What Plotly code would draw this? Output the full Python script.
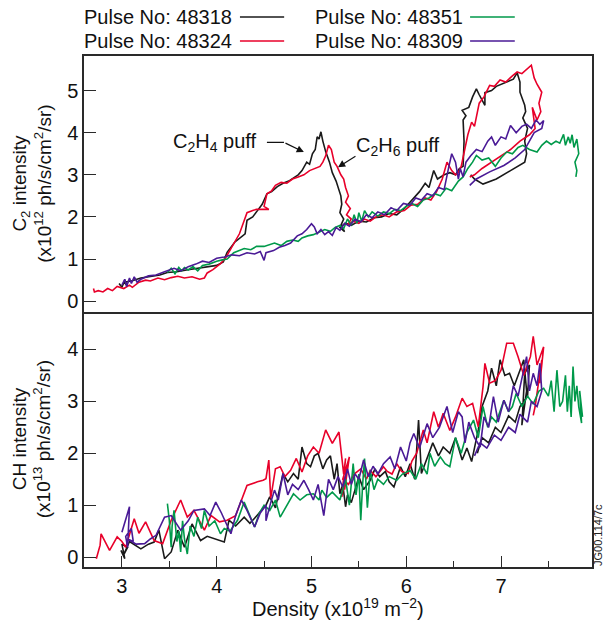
import plotly.graph_objects as go

# ---------------- data ----------------
PULSES = ["48318", "48324", "48351", "48309"]
COLORS = {"48318": "#1a1a1a", "48324": "#e8002a", "48351": "#00994a", "48309": "#4a1a96"}

X_TICKS = [3, 4, 5, 6, 7]
C2_TICKS = [0, 1, 2, 3, 4, 5]
CH_TICKS = [0, 1, 2, 3, 4]

# C2 intensity (x10^12) vs density (x10^19)
C2_48318 = [(2.97,0.42),(3.0,0.33),(3.03,0.5),(3.06,0.36),(3.02,0.45),(3.1,0.48),(3.2,0.55),(3.3,0.58),
 (3.4,0.62),(3.48,0.68),(3.58,0.7),(3.68,0.74),(3.78,0.78),(3.9,0.82),(4.0,0.85),(4.07,0.93),(4.11,1.16),
 (4.19,1.4),(4.25,1.5),(4.3,1.6),(4.32,1.92),(4.38,2.0),(4.43,2.15),(4.48,2.3),(4.53,2.55),(4.58,2.6),
 (4.64,2.72),(4.7,2.8),(4.76,2.85),(4.82,2.95),(4.86,3.0),(4.9,3.1),(4.95,3.3),(4.98,3.25),(5.01,3.5),
 (5.04,3.6),(5.06,3.9),(5.08,3.85),(5.1,4.02),(5.12,3.8),(5.15,3.55),(5.19,3.3),(5.22,3.05),(5.26,2.85),
 (5.28,2.7),(5.31,2.5),(5.32,2.3),(5.3,2.1),(5.34,1.95),(5.31,1.8),(5.35,1.65),(5.3,1.75),(5.36,1.85),
 (5.42,1.8),(5.5,1.9),(5.58,1.88),(5.66,1.98),(5.74,2.0),(5.82,2.08),(5.9,2.05),(5.98,2.2),(6.06,2.4),
 (6.14,2.6),(6.2,2.8),(6.24,2.7),(6.29,3.1),(6.33,2.9),(6.4,3.0),(6.46,3.05),(6.52,3.0),(6.56,3.15),
 (6.6,3.2),(6.61,3.8),(6.6,4.3),(6.63,4.4),(6.59,4.53),(6.66,4.6),(6.7,4.85),(6.74,5.04),(6.77,4.9),
 (6.83,4.65),(6.83,4.95),(6.9,5.0),(6.95,5.1),(7.0,5.15),(7.06,5.2),(7.13,5.27),(7.17,5.42),(7.2,5.2),
 (7.2,4.96),(7.25,4.65),(7.26,4.5),(7.23,4.35),(7.28,4.1),(7.25,3.8),(7.27,3.5),(7.25,3.3),(7.1,3.1),
 (6.95,2.9),(6.81,2.78),(6.72,2.9),(6.68,3.0)]

C2_48324 = [(2.7,0.3),(2.71,0.22),(2.75,0.25),(2.8,0.22),(2.85,0.3),(2.9,0.25),(2.95,0.35),(3.02,0.3),
 (3.08,0.38),(3.11,0.33),(3.18,0.45),(3.25,0.5),(3.3,0.48),(3.38,0.55),(3.45,0.51),(3.52,0.56),(3.59,0.59),
 (3.66,0.55),(3.74,0.58),(3.82,0.52),(3.87,0.55),(3.9,0.67),(3.96,0.75),(4.04,0.89),(4.1,1.05),(4.15,1.25),
 (4.19,1.4),(4.24,1.6),(4.28,1.85),(4.32,2.1),(4.38,2.15),(4.42,2.18),(4.55,2.18),(4.5,2.25),(4.53,2.55),
 (4.58,2.62),(4.62,2.75),(4.68,2.82),(4.74,2.8),(4.8,2.9),(4.86,2.95),(4.92,3.0),(4.98,3.1),(5.04,3.15),
 (5.09,3.2),(5.12,3.3),(5.15,3.45),(5.18,3.7),(5.21,3.6),(5.24,3.3),(5.27,3.2),(5.31,3.0),(5.34,2.9),
 (5.36,2.7),(5.39,2.5),(5.36,2.35),(5.41,2.2),(5.37,2.05),(5.42,1.95),(5.38,1.8),(5.44,1.9),(5.5,1.85),
 (5.56,1.95),(5.62,1.9),(5.68,2.0),(5.75,2.05),(5.82,2.0),(5.9,2.12),(5.98,2.15),(6.05,2.28),(6.12,2.3),
 (6.2,2.45),(6.26,2.4),(6.32,2.6),(6.38,2.9),(6.43,3.3),(6.48,3.1),(6.52,3.0),(6.55,3.05),(6.58,3.2),
 (6.62,3.62),(6.65,3.95),(6.69,4.25),(6.72,4.15),(6.77,4.7),(6.82,4.85),(6.88,5.12),(6.93,5.1),(6.99,5.25),
 (7.05,5.2),(7.12,5.35),(7.17,5.44),(7.22,5.4),(7.27,5.5),(7.32,5.6),(7.35,5.3),(7.38,5.15),(7.43,4.96),
 (7.4,4.7),(7.42,4.5),(7.38,4.3),(7.33,4.6),(7.36,4.1),(7.3,3.95),(7.2,3.8),(7.1,3.6),(7.0,3.45),(6.9,3.3),
 (6.8,3.15),(6.72,3.0),(6.67,2.95)]

C2_48351 = [(3.48,0.68),(3.52,0.78),(3.56,0.65),(3.6,0.8),(3.63,0.72),(3.66,0.8),(3.7,0.74),(3.75,0.82),
 (3.8,0.72),(3.85,0.85),(3.92,0.88),(4.0,0.95),(4.06,0.98),(4.11,1.0),(4.18,1.15),(4.24,1.2),(4.29,1.25),
 (4.36,1.22),(4.42,1.3),(4.5,1.3),(4.56,1.35),(4.61,1.38),(4.68,1.32),(4.74,1.42),(4.8,1.45),(4.86,1.42),
 (4.9,1.5),(4.96,1.55),(5.02,1.58),(5.09,1.64),(5.14,1.7),(5.2,1.66),(5.25,1.75),(5.3,1.8),(5.34,1.72),
 (5.38,1.95),(5.42,1.8),(5.45,2.05),(5.48,1.85),(5.5,2.1),(5.53,1.9),(5.56,2.15),(5.6,2.0),(5.64,2.12),
 (5.7,2.02),(5.76,2.12),(5.82,2.08),(5.88,2.18),(5.94,2.15),(6.0,2.25),(6.06,2.32),(6.12,2.25),(6.18,2.4),
 (6.24,2.45),(6.3,2.55),(6.36,2.5),(6.42,2.68),(6.48,2.62),(6.55,2.85),(6.6,2.95),(6.65,3.15),(6.7,3.3),
 (6.74,3.46),(6.8,3.35),(6.87,3.4),(6.94,3.2),(7.0,3.4),(7.06,3.54),(7.12,3.5),(7.18,3.65),(7.23,3.7),
 (7.3,3.6),(7.38,3.54),(7.43,3.7),(7.48,3.8),(7.53,3.72),(7.58,3.8),(7.62,3.75),(7.66,3.96),(7.68,3.7),
 (7.71,3.9),(7.73,3.75),(7.75,3.95),(7.77,3.65),(7.8,3.85),(7.82,3.5),(7.78,3.3),(7.8,3.1),(7.79,2.95)]

C2_48309 = [(3.0,0.38),(3.03,0.52),(3.05,0.35),(3.08,0.55),(3.1,0.42),(3.13,0.58),(3.16,0.45),(3.2,0.52),
 (3.28,0.6),(3.36,0.62),(3.45,0.7),(3.55,0.78),(3.62,0.72),(3.7,0.82),(3.78,0.88),(3.85,0.95),(3.92,0.92),
 (4.0,1.02),(4.08,1.05),(4.16,1.1),(4.24,1.08),(4.32,1.15),(4.4,1.12),(4.46,1.18),(4.5,0.97),(4.52,1.15),
 (4.6,1.2),(4.66,1.28),(4.72,1.32),(4.78,1.38),(4.85,1.55),(4.9,1.6),(4.95,1.7),(5.0,1.84),(5.03,1.76),
 (5.06,1.6),(5.1,1.7),(5.14,1.58),(5.18,1.65),(5.22,1.56),(5.26,1.75),(5.3,1.68),(5.35,1.85),(5.4,1.78),
 (5.46,1.95),(5.52,1.88),(5.58,2.05),(5.64,1.98),(5.7,2.12),(5.77,2.05),(5.84,2.22),(5.9,2.15),(5.97,2.32),
 (6.04,2.28),(6.1,2.45),(6.16,2.4),(6.22,2.55),(6.28,2.5),(6.34,2.7),(6.4,2.65),(6.45,3.2),(6.48,3.5),
 (6.52,3.3),(6.55,2.9),(6.57,3.15),(6.6,2.95),(6.63,3.3),(6.68,3.45),(6.74,3.6),(6.8,3.55),(6.86,3.8),
 (6.9,3.9),(6.94,3.7),(7.0,3.9),(7.05,3.85),(7.1,4.17),(7.16,4.0),(7.22,4.15),(7.27,4.2),(7.32,4.1),
 (7.37,4.3),(7.41,4.2),(7.45,4.29),(7.43,4.1),(7.35,4.0),(7.25,3.6),(7.15,3.4),(7.03,3.22),(6.88,3.07),
 (6.74,2.9),(6.67,2.75)]

# CH intensity (x10^13) vs density (x10^19)
CH_48318 = [(2.99,0.13),(3.03,-0.03),(3.0,0.25),(3.06,0.19),(3.02,0.05),(3.08,0.3),(3.2,0.16),(3.28,0.25),
 (3.34,0.29),(3.39,0.52),(3.45,-0.03),(3.52,0.1),(3.59,0.52),(3.66,0.19),(3.74,0.64),(3.83,0.32),(3.9,0.4),
 (3.98,0.35),(4.05,0.3),(4.08,0.29),(4.13,0.71),(4.2,0.6),(4.29,0.77),(4.35,0.65),(4.4,0.75),(4.47,0.9),
 (4.52,1.0),(4.56,1.16),(4.62,0.95),(4.7,1.61),(4.75,1.45),(4.81,1.61),(4.86,1.5),(4.9,2.12),(4.95,1.8),
 (4.99,1.74),(5.03,1.95),(5.07,2.0),(5.12,1.7),(5.16,1.87),(5.2,1.95),(5.24,1.5),(5.27,1.8),(5.3,1.22),
 (5.33,1.4),(5.36,0.97),(5.38,1.2),(5.42,1.05),(5.46,1.29),(5.5,1.55),(5.55,1.3),(5.62,1.48),(5.67,1.7),
 (5.72,1.55),(5.78,1.65),(5.82,1.45),(5.87,1.35),(5.94,1.74),(5.99,1.55),(6.04,1.8),(6.09,1.5),(6.13,2.64),
 (6.16,1.61),(6.22,1.9),(6.28,2.2),(6.34,1.95),(6.39,2.12),(6.46,2.0),(6.52,2.3),(6.59,1.87),(6.64,2.1),
 (6.69,1.84),(6.76,2.45),(6.8,2.9),(6.86,3.2),(6.9,3.64),(6.95,3.3),(6.99,3.8),(7.04,3.5),(7.09,3.54),
 (7.14,3.3),(7.2,3.6),(7.24,3.8),(7.27,3.2),(7.22,2.54),(7.25,3.54),(7.3,3.7),(7.28,3.1),(7.2,2.9),
 (7.15,2.6),(7.08,2.72),(7.0,2.4),(6.94,2.5),(6.87,2.2),(6.8,2.3),(6.75,2.0)]

CH_48324 = [(2.73,-0.03),(2.77,0.23),(2.78,0.45),(2.82,0.3),(2.87,0.13),(2.95,0.39),(3.0,0.3),(3.04,0.19),
 (3.13,0.74),(3.18,0.46),(3.25,0.68),(3.34,0.32),(3.43,0.26),(3.52,0.71),(3.62,1.1),(3.69,0.77),(3.76,0.9),
 (3.87,0.52),(3.94,0.8),(4.03,0.68),(4.11,0.71),(4.2,0.8),(4.32,1.38),(4.43,1.45),(4.49,1.48),(4.52,1.51),
 (4.55,1.87),(4.57,1.13),(4.62,1.7),(4.67,1.74),(4.72,1.55),(4.78,1.67),(4.84,1.9),(4.9,1.64),(4.96,1.95),
 (5.02,2.12),(5.08,2.0),(5.15,2.45),(5.22,2.19),(5.29,2.41),(5.31,2.06),(5.34,1.6),(5.36,1.9),(5.32,1.16),
 (5.38,1.75),(5.35,1.3),(5.4,1.93),(5.33,1.5),(5.39,1.4),(5.45,1.6),(5.52,1.7),(5.58,1.5),(5.62,1.67),
 (5.68,1.55),(5.76,1.74),(5.8,1.65),(5.85,1.6),(5.9,1.8),(5.95,1.65),(6.02,1.61),(6.06,1.85),(6.11,2.0),
 (6.18,2.45),(6.22,2.2),(6.29,2.8),(6.34,2.5),(6.39,2.77),(6.46,2.44),(6.52,2.7),(6.59,3.06),(6.64,2.9),
 (6.7,2.96),(6.76,2.51),(6.81,3.28),(6.83,3.73),(6.88,3.35),(6.94,3.4),(7.0,3.6),(7.06,4.12),(7.13,4.12),
 (7.18,3.86),(7.24,3.5),(7.31,3.86),(7.34,4.25),(7.38,3.7),(7.45,4.05),(7.41,3.35),(7.43,3.8),(7.36,2.9),
 (7.34,2.73)]

CH_48351 = [(3.48,1.03),(3.5,0.71),(3.52,0.19),(3.53,0.6),(3.55,0.9),(3.58,0.3),(3.6,0.5),(3.62,0.1),
 (3.64,0.7),(3.66,0.35),(3.69,0.06),(3.72,0.6),(3.76,0.4),(3.8,0.77),(3.84,0.55),(3.87,0.9),(3.92,0.6),
 (3.98,0.7),(4.04,0.45),(4.08,0.55),(4.14,0.5),(4.22,0.71),(4.29,1.06),(4.35,0.8),(4.4,0.58),(4.45,0.85),
 (4.5,1.0),(4.56,0.9),(4.62,1.1),(4.67,0.77),(4.74,1.0),(4.81,1.22),(4.88,1.1),(4.95,1.2),(5.02,1.22),
 (5.08,1.1),(5.11,1.29),(5.16,1.15),(5.22,1.25),(5.3,1.1),(5.36,1.5),(5.4,1.0),(5.44,1.8),(5.47,1.2),
 (5.5,1.6),(5.52,0.71),(5.54,1.4),(5.56,1.9),(5.59,0.95),(5.62,1.67),(5.66,1.3),(5.7,1.5),(5.76,1.4),
 (5.82,1.55),(5.9,1.48),(5.96,1.6),(6.04,1.67),(6.1,1.5),(6.16,1.8),(6.22,1.6),(6.25,2.0),(6.3,1.75),
 (6.36,1.93),(6.41,1.8),(6.46,1.74),(6.52,2.3),(6.58,2.0),(6.64,2.4),(6.71,2.64),(6.76,2.3),(6.81,2.9),
 (6.86,2.5),(6.9,2.7),(6.95,2.6),(7.03,3.02),(7.08,2.8),(7.12,2.9),(7.16,3.15),(7.22,2.9),(7.28,3.1),
 (7.34,2.95),(7.4,3.2),(7.45,3.25),(7.5,3.1),(7.53,3.4),(7.56,2.8),(7.59,3.6),(7.62,2.9),(7.65,3.0),
 (7.68,3.5),(7.7,2.8),(7.72,3.3),(7.74,2.7),(7.76,3.67),(7.78,3.0),(7.8,3.3),(7.82,2.9),(7.85,2.58),
 (7.83,3.2),(7.86,2.7)]

CH_48309 = [(3.0,0.48),(3.02,0.6),(3.08,0.97),(3.06,0.19),(3.04,0.4),(3.1,0.55),(3.12,0.3),(3.06,0.35),
 (3.15,0.25),(3.24,0.26),(3.3,0.35),(3.36,0.42),(3.45,0.77),(3.52,0.8),(3.62,0.52),(3.7,0.7),(3.76,0.9),
 (3.87,0.93),(3.93,0.8),(3.99,1.06),(4.05,0.85),(4.15,0.45),(4.2,0.8),(4.26,1.1),(4.32,0.9),(4.4,0.58),
 (4.46,0.85),(4.52,1.0),(4.52,0.7),(4.57,1.05),(4.61,1.29),(4.65,1.1),(4.7,1.61),(4.75,1.2),(4.8,1.4),
 (4.86,1.3),(4.92,1.48),(4.97,1.3),(5.02,1.1),(5.07,1.4),(5.13,0.8),(5.18,1.5),(5.23,1.3),(5.28,1.55),
 (5.33,1.35),(5.38,1.7),(5.42,1.4),(5.46,1.6),(5.5,1.5),(5.55,1.87),(5.6,1.55),(5.65,1.75),(5.7,1.6),
 (5.76,1.8),(5.83,1.93),(5.88,1.7),(5.94,2.12),(6.0,1.85),(6.04,2.2),(6.08,2.38),(6.14,2.1),(6.22,2.57),
 (6.28,2.3),(6.35,2.5),(6.43,2.9),(6.49,2.4),(6.55,2.8),(6.59,2.7),(6.62,2.2),(6.66,2.6),(6.72,2.3),
 (6.78,2.12),(6.82,2.7),(6.87,2.5),(6.92,3.09),(6.97,2.6),(7.03,3.02),(7.08,2.8),(7.13,3.3),(7.18,3.1),
 (7.23,3.5),(7.27,3.86),(7.3,3.2),(7.34,3.54),(7.38,3.3),(7.41,3.73),(7.43,3.2),(7.38,2.9),(7.32,3.0),
 (7.28,2.6),(7.2,2.75),(7.15,2.4),(7.08,2.5),(7.0,2.25),(6.93,2.35),(6.85,2.1),(6.78,2.2),(6.72,1.95)]

C2_DATA = {"48318": C2_48318, "48324": C2_48324, "48351": C2_48351, "48309": C2_48309}
CH_DATA = {"48318": CH_48318, "48324": CH_48324, "48351": CH_48351, "48309": CH_48309}

# ---------------- figure ----------------
FONT = "Liberation Sans, Arial, Helvetica, sans-serif"
FS = 20
LINE = "#2a2a2a"

fig = go.Figure()
for p in PULSES:
    xs, ys = zip(*C2_DATA[p])
    fig.add_trace(go.Scatter(x=xs, y=ys, mode="lines", xaxis="x2", yaxis="y2",
                             line=dict(color=COLORS[p], width=1.6), showlegend=False,
                             name="Pulse No: " + p))
for p in PULSES:
    xs, ys = zip(*CH_DATA[p])
    fig.add_trace(go.Scatter(x=xs, y=ys, mode="lines", xaxis="x", yaxis="y",
                             line=dict(color=COLORS[p], width=1.6), showlegend=False,
                             name="Pulse No: " + p))

common_axis = dict(showline=True, linecolor=LINE, linewidth=1.5,
                   showgrid=False, zeroline=False,
                   tickfont=dict(family=FONT, size=FS, color="#111"))

fig.update_layout(
    width=605, height=621,
    margin=dict(l=84, r=13, t=56, b=54),
    paper_bgcolor="white", plot_bgcolor="white",
    font=dict(family=FONT, size=FS, color="#111"),
    xaxis=dict(domain=[0, 1], anchor="y", range=[2.6, 7.96], tickvals=X_TICKS, mirror=False,
               ticks="inside", ticklen=11, tickwidth=1.3, tickcolor=LINE,
               minor=dict(dtick=0.5, tick0=0.5, ticks="inside", ticklen=6,
                          tickwidth=1.3, tickcolor=LINE),
               **common_axis),
    xaxis2=dict(domain=[0, 1], anchor="y2", matches="x", range=[2.6, 7.96], mirror=True,
                showticklabels=False, ticks="", **common_axis),
    yaxis=dict(domain=[0, 0.5], anchor="x", range=[-0.19, 4.73], tickvals=CH_TICKS, mirror=True,
               ticks="inside", ticklen=12, tickwidth=1.3, tickcolor=LINE, **common_axis),
    yaxis2=dict(domain=[0.5, 1], anchor="x2", range=[-0.245, 5.82], tickvals=C2_TICKS, mirror=True,
                ticks="inside", ticklen=12, tickwidth=1.3, tickcolor=LINE, **common_axis),
)

# axis titles
fig.add_annotation(text="C<sub>2</sub> intensity<br>(x10<sup>12</sup> ph/s/cm<sup>2</sup>/sr)",
                   xref="paper", yref="paper", x=0, y=0.75, xshift=-52, xanchor="center",
                   yanchor="middle", textangle=-90, showarrow=False,
                   font=dict(family=FONT, size=19))
fig.add_annotation(text="CH intensity<br>(x10<sup>13</sup> ph/s/cm<sup>2</sup>/sr)",
                   xref="paper", yref="paper", x=0, y=0.25, xshift=-52, xanchor="center",
                   yanchor="middle", textangle=-90, showarrow=False,
                   font=dict(family=FONT, size=19))
fig.add_annotation(text="Density (x10<sup>19</sup> m<sup>\u22122</sup>)",
                   xref="paper", yref="paper", x=0.5, y=0, yshift=-40, xanchor="center",
                   yanchor="middle", showarrow=False, font=dict(family=FONT, size=FS))

# figure id
fig.add_annotation(text="JG00.114/7c", xref="paper", yref="paper", x=1, y=0, xshift=-1,
                   xanchor="left", yanchor="bottom", textangle=-90, showarrow=False,
                   borderpad=0, font=dict(family=FONT, size=11, color="#222"))

# puff labels
fig.add_annotation(text="C<sub>2</sub>H<sub>4</sub> puff", xref="x2", yref="y2", x=3.98, y=3.77,
                   showarrow=False, font=dict(family=FONT, size=FS))
fig.add_shape(type="line", xref="x2", yref="y2", x0=4.53, y0=3.77, x1=4.71, y1=3.77,
              line=dict(color="#111", width=1.2))
fig.add_annotation(text="", xref="x2", yref="y2", x=4.92, y=3.54, axref="x2", ayref="y2",
                   ax=4.71, ay=3.77, showarrow=True, arrowhead=2, arrowsize=1.2,
                   arrowwidth=1.2, arrowcolor="#111")
fig.add_annotation(text="C<sub>2</sub>H<sub>6</sub> puff", xref="x2", yref="y2", x=5.91, y=3.66,
                   showarrow=False, font=dict(family=FONT, size=FS))
fig.add_annotation(text="", xref="x2", yref="y2", x=5.28, y=3.18, axref="x2", ayref="y2",
                   ax=5.48, ay=3.46, showarrow=True, arrowhead=2, arrowsize=1.2,
                   arrowwidth=1.2, arrowcolor="#111")

# custom legend: text followed by line sample
LEG_POS = {"48318": (0.295, 1.0763, 0.307, 0.394),
           "48324": (0.295, 1.0294, 0.307, 0.394),
           "48351": (0.750, 1.0763, 0.760, 0.848),
           "48309": (0.750, 1.0294, 0.760, 0.848)}
for p in PULSES:
    tx, ty, lx0, lx1 = LEG_POS[p]
    fig.add_annotation(text="Pulse No: " + p, xref="paper", yref="paper", x=tx, y=ty,
                       xanchor="right", yanchor="middle", showarrow=False,
                       font=dict(family=FONT, size=FS))
    fig.add_shape(type="line", xref="paper", yref="paper", x0=lx0, x1=lx1, y0=ty, y1=ty,
                  line=dict(color=COLORS[p], width=1.6))

fig.write_html("out.html")
